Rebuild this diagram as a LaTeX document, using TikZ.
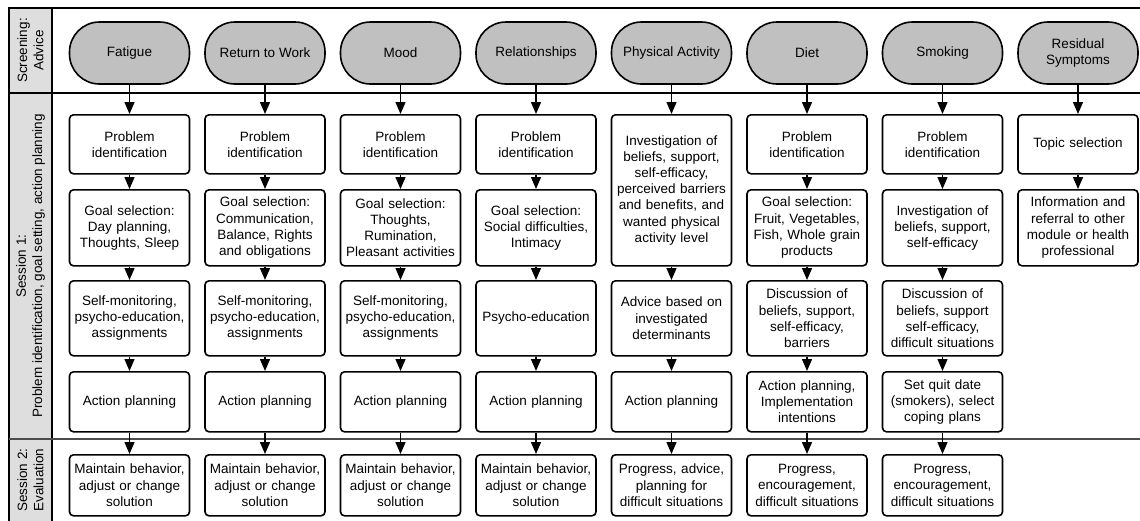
\documentclass[tikz,border=0pt]{standalone}
\usepackage{fontspec}
\setmainfont{Liberation Sans}
\usetikzlibrary{arrows.meta}
\definecolor{pillgray}{RGB}{192,192,192}
\definecolor{lanegray}{RGB}{222,222,222}

\begin{document}
\begin{tikzpicture}[%
  x=1pt, y=-1pt,
  font=\fontsize{13.5}{16.2}\selectfont,
  pill/.style={draw, line width=1.6pt, fill=pillgray, rounded corners=30pt,
    minimum width=120pt, minimum height=62pt, align=center},
  stepbox/.style={draw, line width=1.6pt, rounded corners=4pt, fill=white,
    minimum width=120pt, text width=116pt, inner sep=2pt, align=center, anchor=north},
  r1/.style={stepbox, minimum height=59pt},
  r2/.style={stepbox, minimum height=76pt},
  r3/.style={stepbox, minimum height=75pt},
  r4/.style={stepbox, minimum height=60pt},
  r5/.style={stepbox, minimum height=61pt},
  lane/.style={rotate=90, align=center},
  link/.style={line width=1.4pt, -{Triangle[length=12pt, width=10pt]}}]

  \useasboundingbox (0,0) rectangle (1140,520);
  \clip (0,0) rectangle (1140,520);

  % lanes
  \fill[lanegray] (9,8) rectangle (52,530);
  \draw[line width=2pt] (1150,8) -- (9,8) -- (9,530);
  \draw[line width=1.6pt] (52,8) -- (52,530);
  \draw[line width=2pt] (9,93) -- (1150,93);
  \draw[line width=1.6pt, black!70] (9,439) -- (1150,439);

  \node[lane] (lab-scr) at (30.5,50.5) {Screening:\\Advice};
  \node[lane] (lab-s1) at (30.5,266) {Session 1:\\Problem identification, goal setting, action planning};
  \node[lane] (lab-s2) at (30.5,480) {Session 2:\\Evaluation};

  % screening
  \node[pill] (fat-p)  at (129.5,53) {Fatigue};
  \node[pill] (rtw-p)  at (265,53)   {Return to Work};
  \node[pill] (mood-p) at (400.5,53) {Mood};
  \node[pill] (rel-p)  at (536,53)   {Relationships};
  \node[pill] (pa-p)   at (671.5,53) {Physical Activity};
  \node[pill] (diet-p) at (807,53)   {Diet};
  \node[pill] (smok-p) at (942.5,53) {Smoking};
  \node[pill] (res-p)  at (1078,53)  {Residual\\Symptoms};

  % session 1
  \node[r1] (fat-1)  at (129.5,114) {Problem\\identification};
  \node[r1] (rtw-1)  at (265,114)   {Problem\\identification};
  \node[r1] (mood-1) at (400.5,114) {Problem\\identification};
  \node[r1] (rel-1)  at (536,114)   {Problem\\identification};
  \node[stepbox, minimum height=151pt] (pa-1) at (671.5,114)
    {Investigation of\\beliefs, support,\\self-efficacy,\\perceived barriers\\and benefits, and\\wanted physical\\activity level};
  \node[r1] (diet-1) at (807,114)   {Problem\\identification};
  \node[r1] (smok-1) at (942.5,114) {Problem\\identification};
  \node[r1] (res-1)  at (1078,114)  {Topic selection};

  \node[r2] (fat-2)  at (129.5,189) {Goal selection:\\Day planning,\\Thoughts, Sleep};
  \node[r2] (rtw-2)  at (265,189)   {Goal selection:\\Communication,\\Balance, Rights\\and obligations};
  \node[r2] (mood-2) at (400.5,189) {Goal selection:\\Thoughts,\\Rumination,\\Pleasant activities};
  \node[r2] (rel-2)  at (536,189)   {Goal selection:\\Social difficulties,\\Intimacy};
  \node[r2] (diet-2) at (807,189)   {Goal selection:\\Fruit, Vegetables,\\Fish, Whole grain\\products};
  \node[r2] (smok-2) at (942.5,189) {Investigation of\\beliefs, support,\\self-efficacy};
  \node[r2] (res-2)  at (1078,189)  {Information and\\referral to other\\module or health\\professional};

  \node[r3] (fat-3)  at (129.5,280) {Self-monitoring,\\psycho-education,\\assignments};
  \node[r3] (rtw-3)  at (265,280)   {Self-monitoring,\\psycho-education,\\assignments};
  \node[r3] (mood-3) at (400.5,280) {Self-monitoring,\\psycho-education,\\assignments};
  \node[r3] (rel-3)  at (536,280)   {Psycho-education};
  \node[r3] (pa-3)   at (671.5,280) {Advice based on\\investigated\\determinants};
  \node[r3] (diet-3) at (807,280)   {Discussion of\\beliefs, support,\\self-efficacy,\\barriers};
  \node[r3] (smok-3) at (942.5,280) {Discussion of\\beliefs, support\\self-efficacy,\\difficult situations};

  \node[r4] (fat-4)  at (129.5,371) {Action planning};
  \node[r4] (rtw-4)  at (265,371)   {Action planning};
  \node[r4] (mood-4) at (400.5,371) {Action planning};
  \node[r4] (rel-4)  at (536,371)   {Action planning};
  \node[r4] (pa-4)   at (671.5,371) {Action planning};
  \node[r4] (diet-4) at (807,371)   {Action planning,\\Implementation\\intentions};
  \node[r4] (smok-4) at (942.5,371) {Set quit date\\(smokers), select\\coping plans};

  % session 2
  \node[r5] (fat-5)  at (129.5,454) {Maintain behavior,\\adjust or change\\solution};
  \node[r5] (rtw-5)  at (265,454)   {Maintain behavior,\\adjust or change\\solution};
  \node[r5] (mood-5) at (400.5,454) {Maintain behavior,\\adjust or change\\solution};
  \node[r5] (rel-5)  at (536,454)   {Maintain behavior,\\adjust or change\\solution};
  \node[r5] (pa-5)   at (671.5,454) {Progress, advice,\\planning for\\difficult situations};
  \node[r5] (diet-5) at (807,454)   {Progress,\\encouragement,\\difficult situations};
  \node[r5] (smok-5) at (942.5,454) {Progress,\\encouragement,\\difficult situations};

  % arrows
  \foreach \c in {fat,rtw,mood,rel,diet,smok} {
    \draw[link] (\c-p) -- (\c-1);
    \draw[link] (\c-1) -- (\c-2);
    \draw[link] (\c-2) -- (\c-3);
    \draw[link] (\c-3) -- (\c-4);
    \draw[link] (\c-4) -- (\c-5);
  }
  \draw[link] (pa-p) -- (pa-1);
  \draw[link] (pa-1) -- (pa-3);
  \draw[link] (pa-3) -- (pa-4);
  \draw[link] (pa-4) -- (pa-5);
  \draw[link] (res-p) -- (res-1);
  \draw[link] (res-1) -- (res-2);
\end{tikzpicture}
\end{document}
